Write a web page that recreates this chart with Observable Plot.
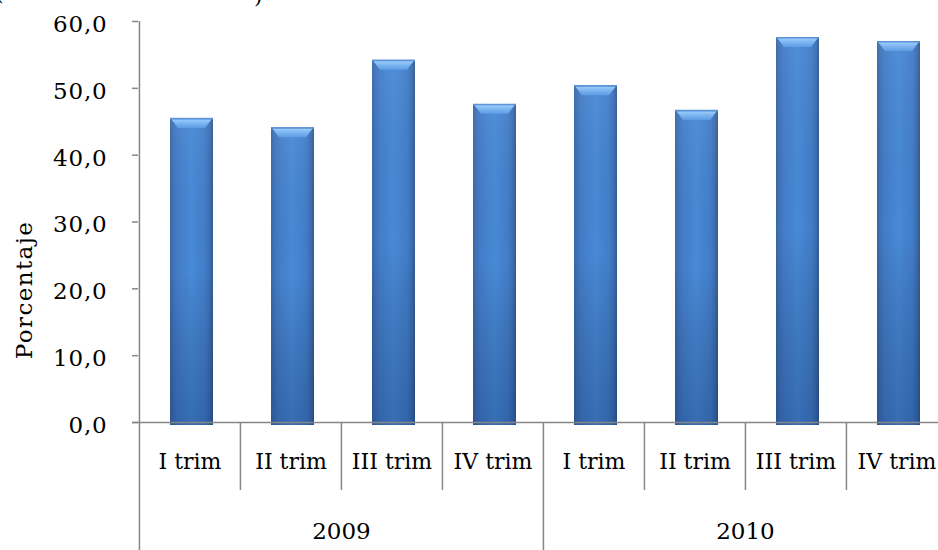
<!DOCTYPE html>
<html><head><meta charset="utf-8">
<script src="https://cdn.jsdelivr.net/npm/d3@7"></script>
<script src="https://cdn.jsdelivr.net/npm/@observablehq/plot@0.6"></script>
<style>
html,body{margin:0;padding:0;overflow:hidden;background:#fff;width:938px;height:550px;}
#chart{position:relative;width:938px;height:550px;overflow:hidden;}
#chart svg{max-width:none !important;}
.paren{position:absolute;font-family:"DejaVu Serif",serif;font-size:22px;line-height:22px;color:#000;}
</style></head><body>
<div id="chart">
<span class="paren" style="left:-5px;top:-18px;">(</span>
<span class="paren" style="left:254px;top:-15px;">)</span>
</div>
<script>
const years = ["2009", "2010"];
const quarters = ["I trim", "II trim", "III trim", "IV trim"];
const values2009 = [45.5, 44.1, 54.2, 47.6];
const values2010 = [50.4, 46.7, 57.6, 57.0];
const yTicks = [0, 10, 20, 30, 40, 50, 60];
const yLabel = "Porcentaje";

const seriesByYear = [values2009, values2010];
const data = [];
years.forEach((y, i) => quarters.forEach((q, j) =>
  data.push({year: y, quarter: q, key: y + "|" + q, value: seriesByYear[i][j], first: j === 0})));
const keys = data.map(d => d.key);
const yearMid = years.map(y => ({year: y, key: y + "|" + quarters[2]}));

const W = 950, H = 550, ML = 138, MR = 3, MT = 21, MB = 128;
const bw = (W - ML - MR) / keys.length;
const fmt = d => d.toFixed(1).replace(".", ",");
const font = "'DejaVu Serif', serif";
const grey = "#868686";

const plot = Plot.plot({
  width: W, height: H,
  marginLeft: ML, marginRight: MR, marginTop: MT, marginBottom: MB,
  style: {fontFamily: font, fontSize: "20px", color: "#000", background: "#fff", overflow: "visible", maxWidth: "none"},
  x: {domain: keys, padding: 0, axis: null},
  y: {domain: [0, 60], axis: null},
  marks: [
    Plot.barY(data, {x: "key", y: "value", fill: "url(#gBody)", insetLeft: 31, insetRight: 27, insetBottom: -3, className: "body"}),
    Plot.barY(data, {x: "key", y: "value", fill: "url(#gShade)", insetLeft: 31, insetRight: 27, insetBottom: -3}),
    Plot.ruleX(data.filter(d => !d.first), {x: "key", dx: -bw / 2, stroke: grey, strokeWidth: 1.5, insetTop: H - MT - MB, insetBottom: -68}),
    Plot.ruleX(data.filter(d => d.first), {x: "key", dx: -bw / 2, stroke: grey, strokeWidth: 1.5, insetTop: H - MT - MB, insetBottom: -MB}),
    Plot.ruleX([keys[0]], {x: d => d, dx: -bw / 2, stroke: grey, strokeWidth: 1.5}),
    Plot.ruleY([0], {stroke: grey, strokeWidth: 1.5, insetLeft: -6}),
    Plot.axisY({ticks: yTicks, tickSize: 6, tickFormat: () => "", stroke: grey, strokeWidth: 1.5, label: null}),
    Plot.text(yTicks, {y: d => d, text: fmt, frameAnchor: "left", textAnchor: "end", dx: -31, dy: 3, fontSize: 23, fill: "#000", className: "ytl"}),
    Plot.text([yLabel], {frameAnchor: "left", textAnchor: "middle", rotate: -90, dx: -114, dy: 68, fontSize: 23, fill: "#000", className: "ylab"}),
    Plot.text(data, {x: "key", text: "quarter", frameAnchor: "bottom", dy: 46, fontSize: 22, fill: "#000"}),
    Plot.text(yearMid, {x: "key", text: "year", dx: -bw / 2, frameAnchor: "bottom", dy: 116, fontSize: 23, fill: "#000"})
  ]
});
plot.style.maxWidth = "none";

const svg = d3.select(plot);
svg.selectAll("g.ytl text").attr("letter-spacing", "0.8px");
svg.selectAll("g.ylab text").attr("letter-spacing", "1.4px");

const defs = svg.insert("defs", ":first-child");
const gb = defs.append("linearGradient").attr("id", "gBody").attr("x1", 0).attr("x2", 1).attr("y1", 0).attr("y2", 0);
[[0, "#3a66a2"], [0.07, "#3f72b8"], [0.18, "#437dc8"], [0.5, "#4889d6"], [0.82, "#427dc8"], [0.93, "#3b6db0"], [1, "#33598e"]]
  .forEach(([o, c]) => gb.append("stop").attr("offset", o).attr("stop-color", c));
const gs = defs.append("linearGradient").attr("id", "gShade").attr("x1", 0).attr("x2", 0).attr("y1", 0).attr("y2", 1);
[[0, "#ffffff", 0.05], [0.5, "#000000", 0], [1, "#001a50", 0.25]]
  .forEach(([o, c, a]) => gs.append("stop").attr("offset", o).attr("stop-color", c).attr("stop-opacity", a));
const gc = defs.append("linearGradient").attr("id", "gCap").attr("x1", 0).attr("x2", 0).attr("y1", 0).attr("y2", 1);
[[0, "#9ccdf8"], [0.4, "#7fb7f2"], [1, "#5d9be4"]]
  .forEach(([o, c]) => gc.append("stop").attr("offset", o).attr("stop-color", c));

const capLayer = svg.append("g");
svg.selectAll("g.body rect").each(function() {
  const r = d3.select(this);
  const x = +r.attr("x"), y = +r.attr("y"), w = +r.attr("width");
  capLayer.append("rect").attr("x", x).attr("y", y).attr("width", w).attr("height", 1.5).attr("fill", "#5b93d8");
  capLayer.append("polygon")
    .attr("points", [[x + 1.5, y + 1.5], [x + w - 1.5, y + 1.5], [x + w - 8, y + 10], [x + 8, y + 10]].map(p => p.join(",")).join(" "))
    .attr("fill", "url(#gCap)");
});
svg.selectAll("g[aria-label='rule']").raise();

document.getElementById("chart").appendChild(plot);
</script>
</body></html>
